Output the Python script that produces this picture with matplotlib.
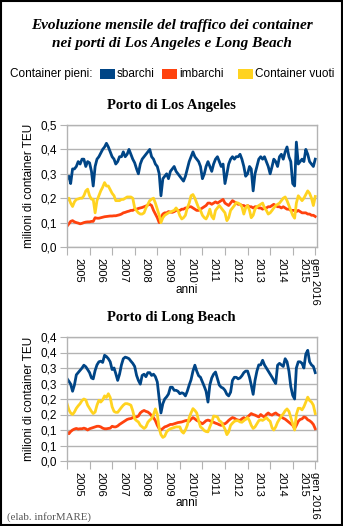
import numpy as np
import pandas as pd
import matplotlib
matplotlib.use("Agg")
import matplotlib.pyplot as plt
import matplotlib.dates as mdates
from matplotlib.patches import Rectangle

# monthly data, gen 2005 - gen 2016 (milioni di TEU)
months = pd.date_range("2005-01-01", periods=133, freq="MS")

la_sbarchi = [
    .28, .29, .26, .32, .32, .33, .35, .34, .36, .36, .33, .35,
    .345, .31, .25, .33, .36, .37, .385, .40, .41, .425, .41, .39,
    .37, .36, .34, .35, .37, .37, .39, .37, .38, .40, .38, .36,
    .345, .32, .30, .34, .36, .37, .38, .39, .40, .37, .36, .34,
    .33, .30, .21, .28, .29, .30, .28, .31, .32, .33, .31, .30,
    .29, .28, .27, .29, .32, .35, .37, .39, .37, .36, .35, .33,
    .28, .30, .33, .35, .33, .31, .34, .36, .37, .35, .33, .34,
    .26, .30, .34, .36, .37, .36, .37, .37, .38, .36, .33, .29,
    .30, .33, .32, .23, .30, .33, .36, .37, .36, .37, .35, .33,
    .30, .33, .36, .35, .33, .37, .38, .36, .39, .41, .37, .35,
    .26, .25, .43, .34, .35, .36, .35, .40, .38, .35, .34, .33,
    .36]
la_imbarchi = [
    .085, .095, .105, .108, .103, .100, .098, .095, .097, .100, .102, .103,
    .103, .105, .105, .120, .118, .118, .120, .122, .124, .125, .126, .127,
    .127, .128, .128, .130, .132, .135, .140, .142, .145, .147, .150, .150,
    .155, .155, .158, .160, .162, .165, .168, .172, .175, .170, .150, .135,
    .120, .100, .120, .135, .140, .140, .145, .143, .142, .145, .150, .150,
    .150, .155, .155, .160, .160, .165, .165, .160, .155, .150, .150, .155,
    .160, .165, .170, .180, .180, .175, .180, .185, .180, .185, .190, .195,
    .180, .175, .170, .180, .190, .185, .180, .175, .175, .170, .170, .165,
    .170, .165, .165, .160, .165, .165, .160, .160, .155, .160, .160, .165,
    .165, .170, .175, .170, .165, .165, .160, .165, .160, .155, .155, .150,
    .150, .150, .145, .150, .145, .140, .140, .140, .135, .135, .130, .130,
    .125]
la_vuoti = [
    .19, .20, .18, .166, .185, .195, .197, .20, .20, .21, .23, .237,
    .21, .196, .196, .14, .19, .21, .23, .245, .264, .25, .25, .235,
    .22, .21, .19, .19, .19, .195, .195, .20, .205, .205, .205, .20,
    .16, .149, .14, .135, .135, .14, .16, .175, .19, .196, .20, .18,
    .155, .13, .10, .12, .13, .135, .14, .143, .147, .15, .16, .15,
    .128, .115, .12, .13, .16, .18, .21, .215, .20, .18, .16, .15,
    .13, .12, .115, .13, .155, .125, .115, .15, .16, .17, .16, .15,
    .14, .108, .12, .15, .16, .17, .182, .18, .175, .165, .135, .16,
    .17, .15, .12, .13, .155, .165, .17, .175, .18, .16, .15, .135,
    .14, .15, .16, .17, .175, .18, .19, .20, .205, .19, .17, .15,
    .13, .118, .18, .21, .20, .19, .20, .215, .23, .22, .20, .17,
    .207]

lb_sbarchi = [
    .266, .257, .248, .225, .245, .278, .285, .292, .30, .309, .304, .295,
    .285, .268, .265, .292, .31, .32, .322, .318, .341, .337, .33, .32,
    .295, .30, .282, .26, .28, .31, .33, .335, .333, .33, .322, .315,
    .305, .276, .26, .248, .276, .28, .272, .285, .285, .276, .28, .272,
    .255, .20, .155, .185, .20, .207, .216, .238, .238, .228, .228, .225,
    .217, .22, .218, .21, .225, .245, .262, .29, .309, .29, .275, .27,
    .255, .24, .225, .19, .245, .268, .28, .287, .265, .245, .238, .235,
    .228, .215, .21, .222, .26, .27, .27, .265, .268, .275, .285, .29,
    .29, .27, .245, .215, .26, .29, .31, .31, .325, .31, .30, .29,
    .28, .27, .26, .25, .309, .315, .31, .305, .33, .32, .29, .24,
    .212, .20, .30, .32, .32, .315, .30, .345, .357, .32, .31, .305,
    .285]
lb_imbarchi = [
    .094, .088, .095, .100, .103, .105, .103, .104, .104, .106, .104, .100,
    .104, .106, .108, .110, .112, .112, .110, .106, .104, .104, .105, .106,
    .112, .110, .110, .113, .118, .122, .126, .130, .134, .136, .137, .140,
    .142, .142, .145, .155, .160, .163, .160, .158, .153, .146, .140, .130,
    .115, .104, .100, .105, .110, .112, .115, .118, .118, .120, .122, .124,
    .125, .126, .128, .130, .131, .128, .135, .140, .136, .131, .128, .124,
    .120, .125, .130, .132, .130, .126, .125, .122, .120, .117, .115, .120,
    .120, .125, .131, .136, .140, .138, .134, .132, .131, .136, .140, .135,
    .142, .148, .153, .150, .148, .145, .142, .150, .145, .142, .150, .155,
    .150, .148, .152, .155, .150, .147, .142, .138, .135, .130, .125, .120,
    .115, .105, .115, .128, .134, .136, .142, .140, .133, .130, .125, .118,
    .104]
lb_vuoti = [
    .185, .165, .155, .150, .158, .170, .178, .185, .195, .200, .197, .180,
    .170, .160, .153, .158, .180, .196, .190, .197, .210, .205, .217, .205,
    .175, .160, .157, .157, .165, .173, .180, .185, .185, .183, .180, .162,
    .136, .130, .126, .115, .110, .105, .110, .125, .132, .137, .150, .168,
    .150, .105, .085, .076, .080, .094, .100, .104, .106, .108, .110, .110,
    .110, .095, .090, .100, .115, .140, .155, .169, .163, .155, .130, .110,
    .105, .098, .095, .094, .110, .125, .145, .144, .142, .130, .126, .115,
    .103, .085, .094, .115, .122, .128, .130, .130, .126, .125, .130, .135,
    .140, .130, .115, .105, .110, .120, .130, .133, .131, .135, .140, .133,
    .128, .107, .100, .110, .125, .135, .145, .152, .162, .168, .160, .140,
    .120, .100, .150, .170, .170, .165, .175, .190, .206, .195, .190, .180,
    .153]

years = list(range(2005, 2016))
la_yticks = [0.0, 0.1, 0.2, 0.3, 0.4, 0.5]
la_ylabels = ["0,0", "0,1", "0,2", "0,3", "0,4", "0,5"]
lb_yticks = [0.0, 0.05, 0.1, 0.15, 0.2, 0.25, 0.3, 0.35, 0.4]
lb_ylabels = ["0,0", "0,1", "0,1", "0,2", "0,2", "0,3", "0,3", "0,4", "0,4"]

BLUE = "#004586"
RED = "#ff420e"
YELLOW = "#ffd320"
GRID = "#b3b3b3"

plt.rcParams["font.family"] = ["Liberation Sans", "DejaVu Sans"]

W, H = 343, 526
fig = plt.figure(figsize=(W / 100, H / 100), dpi=100)
fig.patch.set_facecolor("white")


def fy(py):
    return 1 - py / H


def draw_panel(ax, sb, im, vu, yticks, ylabels, ymax):
    ax.plot(months, sb, color=BLUE, lw=2.0, solid_joinstyle="round")
    ax.plot(months, im, color=RED, lw=2.0, solid_joinstyle="round")
    ax.plot(months, vu, color=YELLOW, lw=2.0, solid_joinstyle="round")
    ax.set_ylim(0, ymax)
    ax.set_xlim(months[0], months[-1] + pd.Timedelta(days=28))
    ax.set_yticks(yticks)
    ax.set_yticklabels(ylabels, fontsize=8.5)
    ax.yaxis.grid(True, color=GRID, lw=1)
    ax.set_axisbelow(True)
    for s in ax.spines.values():
        s.set_color(GRID)
        s.set_linewidth(1)
    # year boundaries as major ticks, year labels in the middle
    major = [pd.Timestamp(f"{y}-01-01") for y in years] + [months[-1]]
    ax.set_xticks(major)
    ax.set_xticklabels([""] * len(years) + ["gen 2016"], rotation=270,
                       fontsize=8, va="top", ha="center")
    minor = [pd.Timestamp(f"{y}-07-01") for y in years]
    ax.set_xticks(minor, minor=True)
    ax.set_xticklabels([str(y) for y in years], minor=True, rotation=270,
                       fontsize=8, va="top", ha="center")
    ax.tick_params(axis="x", which="major", length=6, color=GRID, pad=2)
    ax.tick_params(axis="x", which="minor", length=0, pad=8)
    ax.tick_params(axis="y", length=5, color=GRID, pad=2)
    ax.set_ylabel("milioni di container TEU", fontsize=8.5, labelpad=4)


ax1 = fig.add_axes([67 / W, fy(247), 250 / W, 122 / H])
draw_panel(ax1, la_sbarchi, la_imbarchi, la_vuoti, la_yticks, la_ylabels, 0.5)
ax2 = fig.add_axes([67 / W, fy(461), 250 / W, 124 / H])
draw_panel(ax2, lb_sbarchi, lb_imbarchi, lb_vuoti, lb_yticks, lb_ylabels, 0.4)

# titles
serif = ["Liberation Serif", "DejaVu Serif"]
fig.text(0.5, fy(25), "Evoluzione mensile del traffico dei container",
         ha="center", va="center", fontsize=11, family=serif,
         fontweight="bold", style="italic")
fig.text(0.5, fy(44), "nei porti di Los Angeles e Long Beach",
         ha="center", va="center", fontsize=11, family=serif,
         fontweight="bold", style="italic")
fig.text(171 / W, fy(105), "Porto di Los Angeles", ha="center", va="center",
         fontsize=10.5, family=serif, fontweight="bold")
fig.text(171 / W, fy(318), "Porto di Long Beach", ha="center", va="center",
         fontsize=10.5, family=serif, fontweight="bold")
fig.text(187 / W, fy(290), "anni", ha="center", va="center", fontsize=8.5)
fig.text(187 / W, fy(503), "anni", ha="center", va="center", fontsize=8.5)
fig.text(7 / W, fy(517), "(elab. inforMARE)", ha="left", va="center",
         fontsize=7.8, family=serif, color="#555555")

# legend row
ly = fy(74)
fig.text(10 / W, ly, "Container pieni:", ha="left", va="center", fontsize=8.5)
entries = [(100, BLUE, "sbarchi"), (162, RED, "imbarchi"),
           (238, YELLOW, "Container vuoti")]
for px, col, lab in entries:
    fig.patches.append(Rectangle((px / W, fy(79)), 15 / W, 10 / H,
                                 transform=fig.transFigure, facecolor=col,
                                 edgecolor="none"))
    fig.text((px + 17) / W, ly, lab, ha="left", va="center", fontsize=8.5)

# outer frame
fig.patches.append(Rectangle((0.002, 0.002), 0.996, 0.996,
                             transform=fig.transFigure, fill=False,
                             edgecolor="black", lw=1.5))

fig.savefig("out.png", dpi=100)
